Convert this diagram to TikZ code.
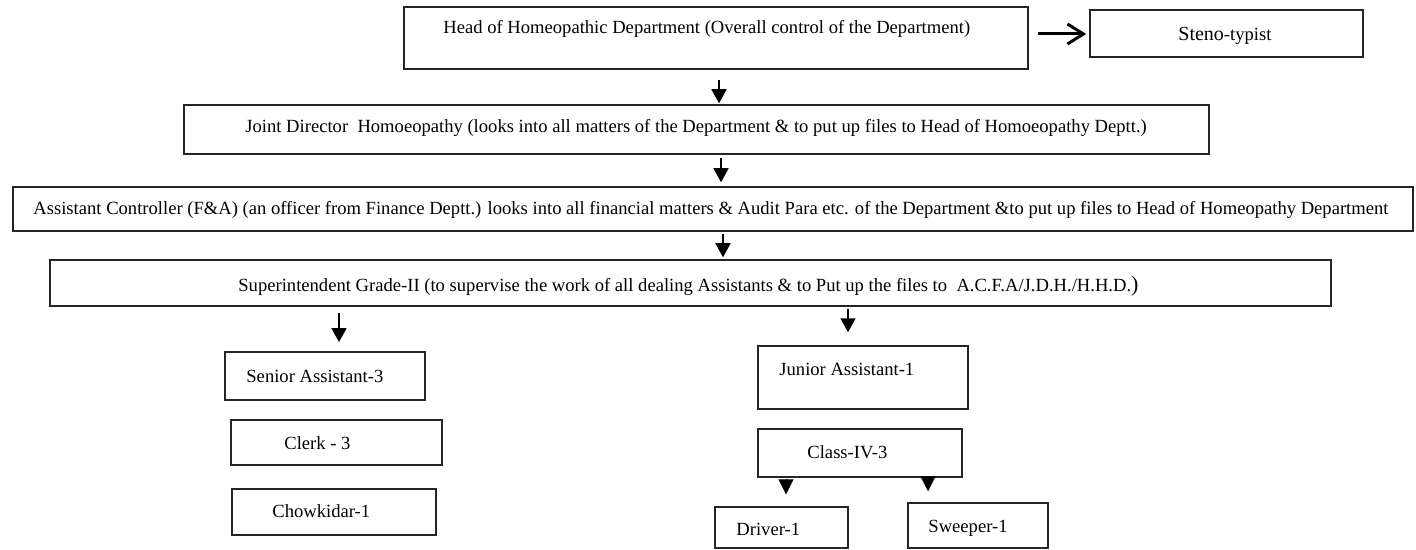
\documentclass[tikz,border=0pt]{standalone}
\usepackage{fontspec}
\setmainfont{Liberation Serif}
\usetikzlibrary{arrows.meta}
\begin{document}
\begin{tikzpicture}[x=0.5pt,y=-0.5pt,
  box/.style={draw=black!85, line width=0.75pt, rectangle, inner sep=0pt, fill=white},
  txt/.style={anchor=base west, inner sep=0pt, font=\fontsize{9.3}{11}\selectfont},
  arr/.style={line width=0.8pt, -{Triangle[length=7pt,width=7.5pt]}},
  tri/.style={line width=0.1pt, -{Triangle[length=7.5pt,width=7.5pt]}},
  harr/.style={line width=1.5pt, -{Straight Barb[length=8pt,width=10pt,line width=1.5pt]}}]
\fill[white] (0,0) rectangle (1416,550);
\useasboundingbox (0,0) rectangle (1416,550);
% boxes
\node[box, line width=0.9pt, minimum width=312pt, minimum height=31pt] (head) at (716,38) {};
\node[box, minimum width=136.5pt, minimum height=23.5pt] (steno) at (1226.5,33.5) {};
\node[box, minimum width=512.5pt, minimum height=24.5pt] (joint) at (696.5,129.5) {};
\node[box, minimum width=700pt, minimum height=22pt] (ac) at (713,209) {};
\node[box, minimum width=640.5pt, minimum height=23pt] (sup) at (690.5,283) {};
\node[box, line width=0.9pt, minimum width=100pt, minimum height=24pt] (senior) at (325,376) {};
\node[box, minimum width=105.5pt, minimum height=22.5pt] (clerk) at (336.5,442.5) {};
\node[box, minimum width=102pt, minimum height=23pt] (chowk) at (334,512) {};
\node[box, minimum width=105pt, minimum height=31.5pt] (junior) at (863,377.5) {};
\node[box, minimum width=102pt, minimum height=24pt] (classiv) at (860,453) {};
\node[box, minimum width=66.5pt, minimum height=20.5pt] (driver) at (781.5,527.5) {};
\node[box, minimum width=70pt, minimum height=22.5pt] (sweeper) at (978,525.5) {};
% texts
\node[txt] (headt) at (443,34) {Head of Homeopathic Department (Overall control of the Department)};
\node[txt] (stenot) at (1178,41) {{\fontsize{10}{11}\selectfont Steno}-typist};
\node[txt] (jointt) at (245,133) {Joint Director\ \ Homoeopathy (looks into all matters of the Department \& to put up files to Head of Homoeopathy Deptt.)};
\node[txt] (act) at (33,215) {Assistant Controller (F\&A) (an officer from Finance Deptt.) looks into all financial matters \& Audit Para etc. of the Department \&to put up files to Head of Homeopathy Department};
\node[txt] (supt) at (238,292) {Superintendent Grade-II (to supervise the work of all dealing Assistants \& to Put up the files to\ \ A.C.F.A/J.D.H./H.H.D.{\fontsize{11}{11}\selectfont)}};
\node[txt] (seniort) at (246,382) {Senior Assistant-3};
\node[txt] (clerkt) at (284,449) {Clerk - 3};
\node[txt] (chowkt) at (272,517) {Chowkidar-1};
\node[txt] (juniort) at (779,375) {Junior Assistant-1};
\node[txt] (classivt) at (807,458) {Class-IV-3};
\node[txt] (drivert) at (736,535) {Driver-1};
\node[txt] (sweepert) at (928,532) {Sweeper-1};
% arrow columns
\coordinate (x1) at (719,0);
\coordinate (x2) at (721,0);
\coordinate (x3) at (723,0);
\coordinate (x4) at (339,0);
\coordinate (x5) at (848,0);
\coordinate (x6) at (786,0);
\coordinate (x7) at (928,0);
\coordinate (y0) at (0,34);
% connectors
\draw[harr, shorten <=4.5pt, shorten >=1.5pt] (head.east |- y0) -- (steno.west |- y0);
\draw[arr, shorten <=5pt, shorten >=0.5pt] (head.south -| x1) -- (joint.north -| x1);
\draw[arr, shorten <=1.5pt, shorten >=2pt] (joint.south -| x2) -- (ac.north -| x2);
\draw[arr, shorten <=1pt, shorten >=1pt] (ac.south -| x3) -- (sup.north -| x3);
\draw[arr, shorten <=3pt, shorten >=4.5pt] (sup.south -| x4) -- (senior.north -| x4);
\draw[arr, shorten <=1pt, shorten >=6.5pt] (sup.south -| x5) -- (junior.north -| x5);
\draw[tri, shorten <=1.5pt, shorten >=6pt] (classiv.south -| x6) -- (driver.north -| x6);
\draw[tri, shorten <=0.5pt, shorten >=5.5pt] (classiv.south -| x7) -- (sweeper.north -| x7);
\end{tikzpicture}
\end{document}
